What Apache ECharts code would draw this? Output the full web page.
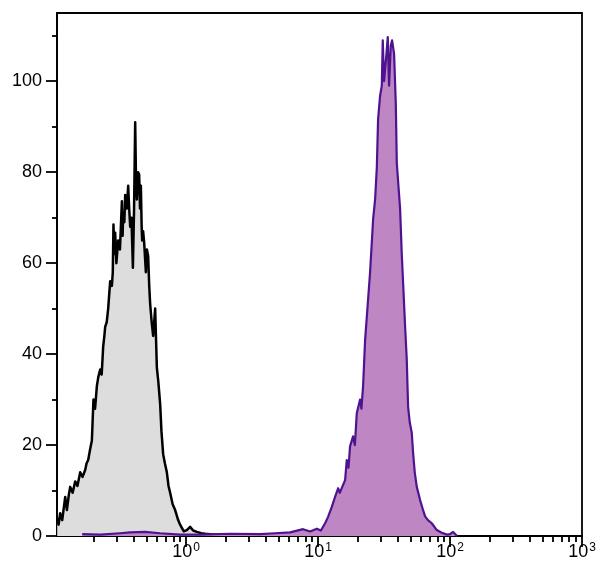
<!DOCTYPE html>
<html>
<head>
<meta charset="utf-8">
<script src="https://cdn.jsdelivr.net/npm/echarts@6/dist/echarts.min.js"></script>
<style>
html,body{margin:0;padding:0;background:#fff;}
#c{width:600px;height:585px;}
</style>
</head>
<body>
<div id="c"></div>
<script>
// Unstained control (gray) histogram: fluorescence intensity and count
const controlX = [0.1054,0.1080,0.1110,0.1150,0.1212,0.1248,0.1290,0.1322,0.1380,0.1442,0.1500,0.1574,0.1640,0.1717,0.1760,0.1810,0.1870,0.1930,0.1984,0.2040,0.2106,0.2160,0.2231,0.2290,0.2350,0.2400,0.2434,0.2500,0.2565,0.2610,0.2656,0.2736,0.2780,0.2813,0.2850,0.2898,0.2960,0.3053,0.3150,0.3258,0.3300,0.3333,0.3400,0.3452,0.3550,0.3636,0.3700,0.3766,0.3850,0.3948,0.4030,0.4109,0.4170,0.4232,0.4320,0.4405,0.4470,0.4538,0.4600,0.4642,0.4720,0.4807,0.4951,0.5040,0.5154,0.5250,0.5337,0.5480,0.5623,0.5823,0.5998,0.6150,0.6353,0.6500,0.6694,0.6900,0.7140,0.7350,0.7564,0.7900,0.8254,0.8697,0.9000,0.9278,0.9600,1.012,1.072,1.130,1.205,1.300,1.393,1.659,1.974];
const controlY = [4,2.5,5,3.5,8.6,5.7,9,10.8,9.5,12,11,14,13,14.5,16,16.7,19,21,30,28,33,35,36.6,35.5,41.6,44,46,47,50,53,56,55,58,68.5,62,66.7,60,65,63,73.6,66,71,69,75,72,77,72,68,70,59,72,91,78,74,80,79.5,72,77,68,65,67,64.5,58,63,61.5,55,51,47,44,50,37,34,29,23,18,16,14,11,9.5,7,5.7,3.5,2.5,1.8,1.0,1.3,2,1.2,0.9,0.6,0.5,0.3,0];
// Stained sample (purple) histogram
const stainedX = [0.163,0.2231,0.316,0.3766,0.489,0.635,0.901,1.276,2.154,3.637,4.724,6.136,7.696,8.696,9.776,10.50,11.30,11.90,12.70,13.45,14.18,14.60,15.13,16.02,16.49,17.00,17.46,18.41,19.00,19.64,20.80,21.30,21.92,22.70,23.92,24.77,25.52,26.11,27.04,27.86,28.48,29.50,30.39,30.91,31.62,32.74,33.73,34.51,35.55,36.37,37.66,38.80,39.49,40.39,41.82,43.05,44.07,45.65,46.98,48.09,49.50,51.26,52.46,54.00,55.96,59.29,62.00,64.72,68.00,72.68,79.30,86.50,94.9,100.0,105.4,113];
const stainedY = [0.4,0.3,0.6,0.8,0.9,0.6,0.3,0.3,0.5,0.4,0.6,0.8,1.5,1.0,1.6,1.2,2.8,4.2,6.4,8.6,10.5,9.5,10.6,12.3,16.7,15,19.7,21.9,20,27,30,28,32.9,43,52,58,64.5,69.6,74,81,91.6,96.8,99,109,100,105,109.7,99,107.8,109,106,95,82,78,72,62,55.7,46,38.8,28.4,25,22.7,18.3,14,10.8,7.9,6,4.3,3.5,2.8,1.3,0.7,0.3,0.4,0.9,0];
// Axis ticks
const xMajorTicks = [1,10,100,1000];
const xMinorTicks = [0.2,0.3,0.4,0.5,0.6,0.7,0.8,0.9,2,3,4,5,6,7,8,9,20,30,40,50,60,70,80,90,200,300,400,500,600,700,800,900];
const yMajorTicks = [0,20,40,60,80,100];
const yMinorTicks = [10,30,50,70,90,110];
const xMin = 0.105, xMax = 1000, yMin = 0, yMax = 115;

const pair = (xs, ys) => xs.map((x, i) => [x, ys[i]]);
const font = 'Liberation Sans, Arial, sans-serif';

const chart = echarts.init(document.getElementById('c'), null, {renderer: 'canvas'});
chart.setOption({
  animation: false,
  backgroundColor: '#fff',
  grid: {left: 57, right: 18, top: 13, bottom: 49, show: true, borderColor: '#000', borderWidth: 1.8, backgroundColor: 'transparent'},
  xAxis: [
    {
      type: 'log', logBase: 10, min: xMin, max: xMax, position: 'bottom',
      axisLine: {show: true, lineStyle: {color: '#000', width: 1.8}},
      axisTick: {show: true, customValues: xMajorTicks, length: 11, lineStyle: {color: '#000', width: 1.8}},
      axisLabel: {
        customValues: xMajorTicks, margin: 6, color: '#000', fontFamily: font,
        formatter: function (v) { return '{b|10}{s|' + Math.round(Math.log10(v)) + '}'; },
        rich: {
          b: {fontSize: 18, fontFamily: font, color: '#000', lineHeight: 20},
          s: {fontSize: 12, fontFamily: font, color: '#000', lineHeight: 20, verticalAlign: 'top', padding: [0, 0, 5, 1]}
        }
      },
      splitLine: {show: false}, minorTick: {show: false}
    },
    {
      type: 'log', logBase: 10, min: xMin, max: xMax, position: 'bottom',
      axisLine: {show: false},
      axisTick: {show: true, customValues: xMinorTicks, length: 6, lineStyle: {color: '#000', width: 1.8}},
      axisLabel: {show: false},
      splitLine: {show: false}
    }
  ],
  yAxis: [
    {
      type: 'value', min: yMin, max: yMax, position: 'left',
      axisLine: {show: true, lineStyle: {color: '#000', width: 1.8}},
      axisTick: {show: true, customValues: yMajorTicks, length: 11, lineStyle: {color: '#000', width: 1.8}},
      axisLabel: {customValues: yMajorTicks, margin: 15, color: '#000', fontSize: 18, fontFamily: font},
      splitLine: {show: false}
    },
    {
      type: 'value', min: yMin, max: yMax, position: 'left',
      axisLine: {show: false},
      axisTick: {show: true, customValues: yMinorTicks, length: 5, lineStyle: {color: '#000', width: 1.8}},
      axisLabel: {show: false},
      splitLine: {show: false}
    }
  ],
  series: [
    {
      type: 'line', xAxisIndex: 0, yAxisIndex: 0, data: pair(controlX, controlY),
      symbol: 'none', z: 2,
      lineStyle: {color: '#000', width: 2.5, join: 'round'},
      areaStyle: {color: '#dddddd', opacity: 1}
    },
    {
      type: 'line', xAxisIndex: 0, yAxisIndex: 0, data: pair(stainedX, stainedY),
      symbol: 'none', z: 3,
      lineStyle: {color: '#4e1390', width: 2.2, join: 'round'},
      areaStyle: {color: '#be87c4', opacity: 1}
    }
  ]
});
</script>
</body>
</html>
